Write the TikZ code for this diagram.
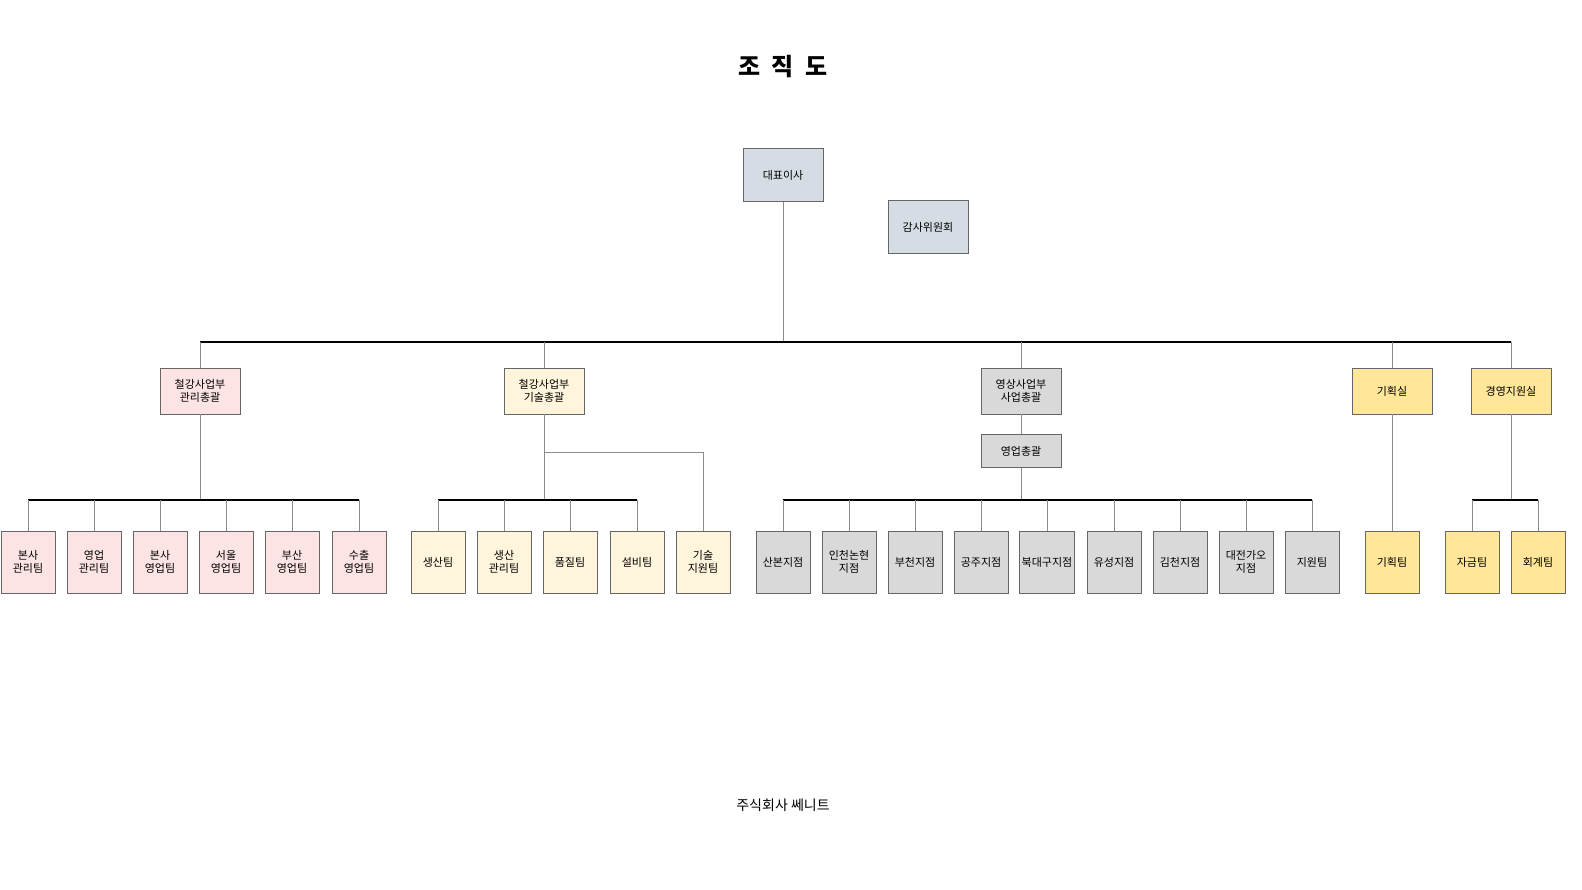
\documentclass[tikz,border=0pt]{standalone}
\usepackage{fontspec}
\setmainfont{Noto Sans CJK KR}
\usetikzlibrary{positioning}
\definecolor{topfill}{HTML}{D6DCE4}
\definecolor{pinkfill}{HTML}{FDE4E4}
\definecolor{creamfill}{HTML}{FFF5DC}
\definecolor{grayfill}{HTML}{D9D9D9}
\definecolor{yellowfill}{HTML}{FFE699}
\definecolor{linegray}{HTML}{8C8C8C}
\tikzset{
  unit/.style={draw=black!60, minimum width=40pt, minimum height=26.5pt, align=center,
    font=\fontsize{5.5}{6.8}\selectfont, inner sep=1pt},
  team/.style={draw=black!60, minimum width=27pt, minimum height=31pt, align=center,
    font=\fontsize{5.5}{6.8}\selectfont, inner sep=1pt},
  drop/.style={draw=linegray, line width=0.5pt},
  bus/.style={draw=black, line width=0.6pt}
}
\begin{document}
\begin{tikzpicture}[x=0.5pt,y=-0.5pt]
  \useasboundingbox (0,0) rectangle (1582,889);
  \node[font=\fontsize{12}{14}\selectfont\bfseries] (title) at (783,67) {조\ \ 직\ \ 도};
  \node[font=\fontsize{7}{8}\selectfont] (footer) at (783,805) {주식회사 쎄니트};

  % top
  \node[unit, fill=topfill] (ceo) at (783,175) {대표이사};
  \node[unit, fill=topfill] (audit) at (928,227) {감사위원회};

  % divisions
  \node[unit, minimum height=23pt, fill=pinkfill] (mgmt) at (200,391) {철강사업부\\관리총괄};
  \node[unit, minimum height=23pt, fill=creamfill] (tech) at (544,391) {철강사업부\\기술총괄};
  \node[unit, minimum height=23pt, fill=grayfill] (video) at (1021,391) {영상사업부\\사업총괄};
  \node[unit, minimum height=16.5pt, fill=grayfill] (sales) at (1021,451) {영업총괄};
  \node[unit, minimum height=23pt, fill=yellowfill] (plan) at (1392,391) {기획실};
  \node[unit, minimum height=23pt, fill=yellowfill] (support) at (1511,391) {경영지원실};

  % teams
  \foreach \name/\x/\txt in {p1/28/본사\\관리팀, p2/94/영업\\관리팀, p3/160/본사\\영업팀,
      p4/226/서울\\영업팀, p5/292/부산\\영업팀, p6/359/수출\\영업팀}
    \node[team, fill=pinkfill] (\name) at (\x,562) {\txt};
  \foreach \name/\x/\txt in {c1/438/생산팀, c2/504/생산\\관리팀, c3/570/품질팀,
      c4/637/설비팀, c5/703/기술\\지원팀}
    \node[team, fill=creamfill] (\name) at (\x,562) {\txt};
  \foreach \name/\x/\txt in {g1/783/산본지점, g2/849/인천논현\\지점, g3/915/부천지점,
      g4/981/공주지점, g5/1047/북대구지점, g6/1114/유성지점, g7/1180/김천지점,
      g8/1246/대전가오\\지점, g9/1312/지원팀}
    \node[team, fill=grayfill] (\name) at (\x,562) {\txt};
  \node[team, fill=yellowfill] (y1) at (1392,562) {기획팀};
  \node[team, fill=yellowfill] (y2) at (1472,562) {자금팀};
  \node[team, fill=yellowfill] (y3) at (1538,562) {회계팀};

  % main bus
  \draw[drop] (ceo.south) -- (783,342);
  \draw[bus] (mgmt.north |- 0,342) -- (support.north |- 0,342);
  \foreach \d in {mgmt,tech,video,plan,support}
    \draw[drop] (\d.north |- 0,342) -- (\d.north);

  % sub buses
  \draw[drop] (mgmt.south) -- (200,500);
  \draw[bus] (p1.north |- 0,500) -- (p6.north |- 0,500);
  \draw[drop] (tech.south) -- (544,500);
  \draw[bus] (c1.north |- 0,500) -- (c4.north |- 0,500);
  \draw[drop] (544,452) -| (c5.north);
  \draw[drop] (video.south) -- (sales.north);
  \draw[drop] (sales.south) -- (1021,500);
  \draw[bus] (g1.north |- 0,500) -- (g9.north |- 0,500);
  \draw[drop] (plan.south) -- (y1.north);
  \draw[drop] (support.south) -- (1511,500);
  \draw[bus] (y2.north |- 0,500) -- (y3.north |- 0,500);
  \foreach \t in {p1,p2,p3,p4,p5,p6,c1,c2,c3,c4,g1,g2,g3,g4,g5,g6,g7,g8,g9,y2,y3}
    \draw[drop] (\t.north |- 0,500) -- (\t.north);
\end{tikzpicture}
\end{document}
